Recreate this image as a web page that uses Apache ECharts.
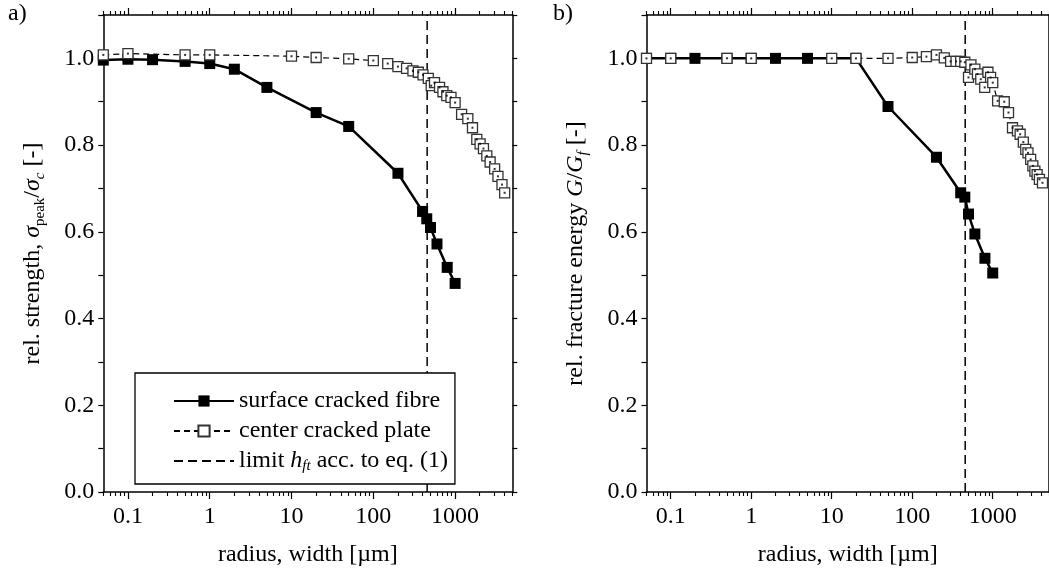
<!DOCTYPE html>
<html><head><meta charset="utf-8">
<script src="https://cdn.jsdelivr.net/npm/echarts@6/dist/echarts.min.js"></script>
<style>html,body{margin:0;padding:0;background:#fff}#c{width:1049px;height:572px}</style>
</head><body><div id="c"></div>
<script>
// ---- data ----
const xTickLabels = [0.1, 1, 10, 100, 1000];
const yTickLabels = [0.0, 0.2, 0.4, 0.6, 0.8, 1.0];
const limitX = 455;

// panel a) relative strength
const fibreX_a = [0.05, 0.1, 0.2, 0.5, 1, 2, 5, 20, 50, 200, 400, 450, 500, 600, 800, 1000];
const fibreY_a = [0.996, 0.998, 0.997, 0.993, 0.988, 0.975, 0.933, 0.875, 0.843, 0.735, 0.647, 0.630, 0.610, 0.572, 0.518, 0.481];
const plateX_a = [0.05, 0.1, 0.5, 1, 10, 20, 50, 100, 150, 200, 255, 305, 355, 405, 470, 510, 560, 645, 710, 790, 890, 1000, 1200, 1430, 1630, 1840, 2020, 2220, 2440, 2680, 3040, 3340, 3740, 4030];
const plateY_a = [1.008, 1.011, 1.008, 1.008, 1.005, 1.002, 0.999, 0.995, 0.988, 0.981, 0.977, 0.971, 0.968, 0.962, 0.954, 0.937, 0.944, 0.933, 0.923, 0.914, 0.910, 0.898, 0.871, 0.861, 0.840, 0.813, 0.803, 0.792, 0.775, 0.761, 0.745, 0.728, 0.709, 0.690];

// panel b) relative fracture energy
const fibreX_b = [0.05, 0.1, 0.2, 0.5, 1, 2, 5, 20, 50, 200, 400, 450, 500, 600, 800, 1000];
const fibreY_b = [1.0, 1.0, 1.0, 1.0, 1.0, 1.0, 1.0, 1.0, 0.889, 0.772, 0.690, 0.680, 0.641, 0.595, 0.539, 0.505];
const plateX_b = [0.05, 0.1, 0.5, 1, 10, 20, 50, 100, 150, 200, 250, 300, 350, 400, 450, 500, 536, 600, 646, 710, 795, 872, 940, 1000, 1150, 1390, 1570, 1760, 2030, 2190, 2400, 2570, 2740, 2960, 3150, 3340, 3560, 3800, 4150];
const plateY_b = [1.0, 1.0, 1.0, 1.0, 1.0, 1.0, 1.0, 1.002, 1.004, 1.008, 1.001, 0.993, 0.993, 0.993, 0.991, 0.956, 0.985, 0.975, 0.964, 0.952, 0.933, 0.968, 0.956, 0.944, 0.902, 0.900, 0.875, 0.840, 0.833, 0.825, 0.807, 0.790, 0.782, 0.767, 0.752, 0.740, 0.732, 0.721, 0.713];

// ---- helpers ----
const FONT = 'Liberation Serif';
const XMIN = 0.05, XMAX = 5000;
const minorTicks = [];
for (let e = -2; e <= 3; e++) {
  for (let m = 1; m <= 9; m++) {
    const v = +(m * Math.pow(10, e)).toPrecision(6);
    if (v >= XMIN - 1e-9 && v <= XMAX + 1e-9 && m !== 1) minorTicks.push(v);
  }
}
const pairs = (xs, ys) => xs.map((x, i) => [x, ys[i]]);

const grids = [
  {left: 103.3, top: 15, width: 409, height: 478},
  {left: 646.5, top: 15, width: 409, height: 478}
];

const xAxes = [], yAxes = [];
const AXC = '#000';
grids.forEach((g, gi) => {
  ['bottom', 'top'].forEach(pos => {
    // major
    xAxes.push({
      type: 'log', logBase: 10, gridIndex: gi, position: pos, min: XMIN, max: XMAX,
      axisLine: {show: true, onZero: false, lineStyle: {color: AXC, width: 1.5}},
      axisTick: {show: true, inside: false, length: 7, lineStyle: {color: AXC, width: 1.2}, customValues: xTickLabels},
      minorTick: {show: false}, splitLine: {show: false},
      axisLabel: {show: pos === 'bottom', customValues: xTickLabels, formatter: v => String(+(+v).toPrecision(6)),
        fontFamily: FONT, fontSize: 24, color: '#000', margin: 13},
      name: pos === 'bottom' ? 'radius, width [µm]' : '',
      nameLocation: 'middle', nameGap: 51,
      nameTextStyle: {fontFamily: FONT, fontSize: 24, color: '#000'}
    });
    // minor
    xAxes.push({
      type: 'log', logBase: 10, gridIndex: gi, position: pos, min: XMIN, max: XMAX,
      axisLine: {show: false, onZero: false},
      axisTick: {show: true, inside: false, length: 4, lineStyle: {color: AXC, width: 1.1}, customValues: minorTicks},
      minorTick: {show: false}, splitLine: {show: false},
      axisLabel: {show: false, customValues: minorTicks}
    });
  });
  ['left', 'right'].forEach(pos => {
    const isLeft = pos === 'left';
    yAxes.push({
      type: 'value', gridIndex: gi, position: pos, min: 0, max: 1.1, interval: 0.1,
      axisLine: {show: true, onZero: false, lineStyle: {color: AXC, width: 1.5}},
      axisTick: {show: true, inside: false, length: 5, lineStyle: {color: AXC, width: 1.2}},
      splitLine: {show: false},
      axisLabel: {show: isLeft, fontFamily: FONT, fontSize: 24, color: '#000', margin: 9,
        formatter: v => { const r = Math.round(v * 10) / 10; return yTickLabels.some(t => Math.abs(t - r) < 1e-6) ? r.toFixed(1) : ''; }},
      name: isLeft ? (gi === 0
        ? '{a|rel. strength, }{i|σ}{s|peak}{a|/}{i|σ}{si|c}{a| [-]}'
        : '{a|rel. fracture energy }{i|G}{a|/}{i|G}{si|f}{a| [-]}') : '',
      nameLocation: 'middle', nameRotate: 90, nameGap: 56,
      nameTextStyle: {fontFamily: FONT, fontSize: 24, color: '#000', rich: {
        a: {fontFamily: FONT, fontSize: 24, lineHeight: 30, color: '#000'},
        i: {fontFamily: FONT, fontSize: 24, lineHeight: 30, fontStyle: 'italic', color: '#000'},
        s: {fontFamily: FONT, fontSize: 15, lineHeight: 14, verticalAlign: 'bottom', color: '#000'},
        si: {fontFamily: FONT, fontSize: 15, lineHeight: 14, fontStyle: 'italic', verticalAlign: 'bottom', color: '#000'}
      }}
    });
  });
});

const series = [];
[[fibreX_a, fibreY_a, plateX_a, plateY_a], [fibreX_b, fibreY_b, plateX_b, plateY_b]].forEach((d, gi) => {
  const xi = gi * 4, yi = gi * 2;
  series.push({
    name: 'limit', type: 'line', xAxisIndex: xi, yAxisIndex: yi, symbol: 'none', z: 1,
    data: [[limitX, 0], [limitX, 1.1]],
    lineStyle: {color: '#000', width: 1.5, type: [9, 5]}, itemStyle: {color: '#000'}
  });
  series.push({
    name: 'surface cracked fibre', type: 'line', xAxisIndex: xi, yAxisIndex: yi, z: 2,
    data: pairs(d[0], d[1]), symbol: 'rect', symbolSize: 11,
    lineStyle: {color: '#000', width: 2.5}, itemStyle: {color: '#000'}
  });
  series.push({
    name: 'center cracked plate', type: 'line', xAxisIndex: xi, yAxisIndex: yi, z: 3,
    data: pairs(d[2], d[3]), symbol: 'rect', symbolSize: 10,
    lineStyle: {color: '#000', width: 1.2, type: [6, 4]},
    itemStyle: {color: '#fff', borderColor: '#333', borderWidth: 1.3}
  });
  series.push({
    name: 'dots', type: 'scatter', xAxisIndex: xi, yAxisIndex: yi, z: 4,
    data: pairs(d[2], d[3]), symbol: 'rect', symbolSize: 2, itemStyle: {color: '#000'}, silent: true
  });
});

const legendRich = {
  a: {fontFamily: FONT, fontSize: 24, lineHeight: 26, color: '#000'},
  i: {fontFamily: FONT, fontSize: 24, lineHeight: 26, fontStyle: 'italic', color: '#000'},
  s: {fontFamily: FONT, fontSize: 15, lineHeight: 12, fontStyle: 'italic', verticalAlign: 'bottom', color: '#000'}
};

const option = {
  animation: false,
  backgroundColor: '#fff',
  grid: grids,
  xAxis: xAxes,
  yAxis: yAxes,
  legend: {
    data: ['surface cracked fibre', 'center cracked plate',
      {name: 'limit', itemStyle: {color: 'rgba(0,0,0,0)', borderWidth: 0, opacity: 0}}],
    orient: 'vertical', left: 135, top: 373,
    padding: [16, 7, 10, 38], itemGap: 6, itemWidth: 60, itemHeight: 14,
    borderColor: '#000', borderWidth: 1.3, backgroundColor: '#fff', borderRadius: 0,
    selectedMode: false,
    textStyle: {fontFamily: FONT, fontSize: 24, color: '#000', rich: legendRich},
    formatter: name => name === 'limit' ? '{a|limit }{i|h}{s|ft}{a| acc. to eq. (1)}' : '{a|' + name + '}'
  },
  graphic: [
    {type: 'text', left: 8, top: 2, style: {text: 'a)', fontFamily: FONT, fontSize: 24, fill: '#000'}},
    {type: 'text', left: 553, top: 2, style: {text: 'b)', fontFamily: FONT, fontSize: 24, fill: '#000'}}
  ],
  series: series
};
const chart = echarts.init(document.getElementById('c'), null, {renderer: 'canvas'});
chart.setOption(option);
</script></body></html>
